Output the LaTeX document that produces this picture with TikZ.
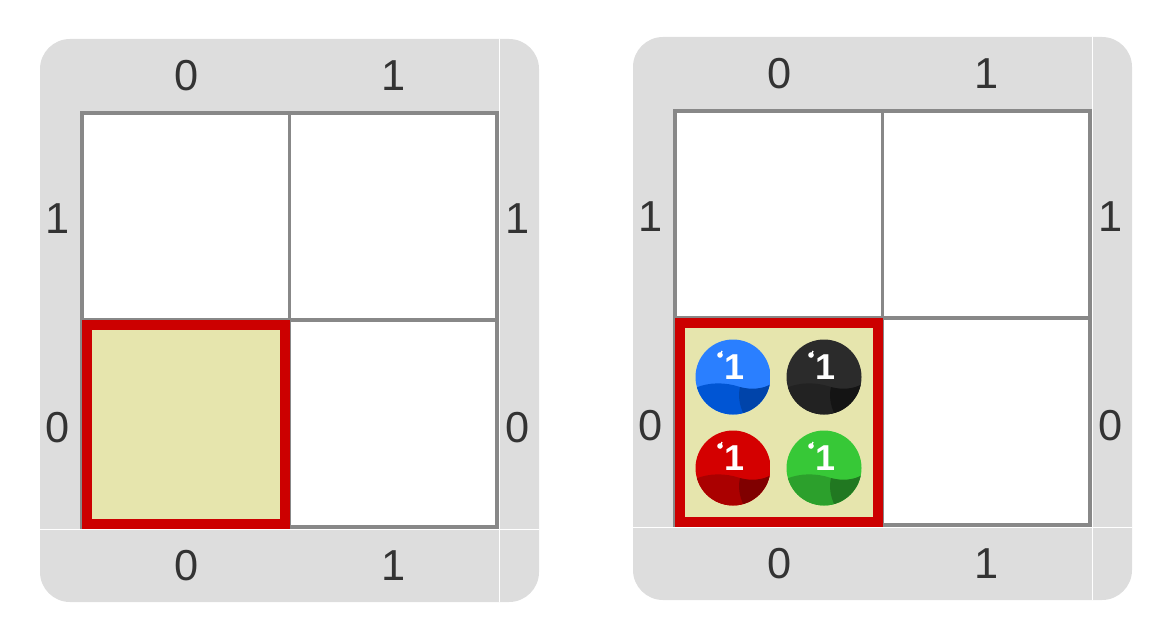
\documentclass[tikz,border=0pt]{standalone}
\usepackage{fontspec}
\setmainfont{Liberation Sans}
\definecolor{panel}{HTML}{DDDDDD}
\definecolor{gridline}{HTML}{888888}
\definecolor{cellfill}{HTML}{E6E5AD}
\definecolor{selred}{HTML}{CC0000}
\definecolor{txt}{HTML}{333333}

\begin{document}
\begin{tikzpicture}[x=0.75pt,y=-0.75pt,
  lbl/.style={font=\fontsize{32.5}{39}\selectfont,text=txt,inner sep=0pt},
  num/.style={font=\fontsize{27}{32}\selectfont\bfseries,text=white,inner sep=0pt}]
\useasboundingbox (0,0) rectangle (1162,635);
\foreach \p/\dx/\dy in {l/0/0,r/593/-2} {
\begin{scope}[shift={(\dx,\dy)}]
\fill[panel,rounded corners=22.5pt] (40,39) rectangle (539,602);
\draw[white,line width=0.75pt] (499.5,39)--(499.5,602) (40,529.5)--(539,529.5);
\fill[white] (82,113) rectangle (497,527);
\fill[cellfill] (82,320) rectangle (289.5,527);
\draw[gridline,line width=2.4pt] (82,113) rectangle (497,527) (289.5,113)--(289.5,527) (82,320)--(497,320);
\draw[selred,line width=7.5pt] (87,325) rectangle (285,524);
\foreach \i/\x in {0/187,1/394} {
\node[lbl] (t\p\i) at (\x,75.5) {\i};
\node[lbl] (b\p\i) at (\x,566) {\i};}
\foreach \i/\y in {1/218.5,0/428} {
\node[lbl] (w\p\i) at (58,\y) {\i};
\node[lbl] (e\p\i) at (518,\y) {\i};}
\end{scope}}
% marbles in the selected cell
\foreach \n/\x/\y/\ca/\cb/\cc in {blue/733/377/2A7FFF/0055D4/0044AA,black/824/377/2B2B2B/222222/141414,
  red/733/468/D40000/AA0000/800000,green/824/468/37C837/2CA02C/217821} {
\definecolor{ca}{HTML}{\ca}\definecolor{cb}{HTML}{\cb}\definecolor{cc}{HTML}{\cc}
\begin{scope}[shift={(\x,\y)}]
\begin{scope}
\clip (0,0) circle[radius=37.5];
\fill[ca] (-38,-38) rectangle (38,38);
\fill[cb] (-38,11) .. controls (-24,5) and (-8,5) .. (7,10) -- (11,38) -- (-38,38) -- cycle;
\fill[cc] (7,10) .. controls (18,13) and (30,12) .. (38,7) -- (38,38) -- (11,38) .. controls (6,28) and (5,18) .. (7,10);
\end{scope}
\node[num] (n\n) at (1,-10) {1};
\fill[white] (-13,-22) circle[radius=2.8];
\draw[white,line width=1pt] (-13,-22)--(-11,-26);
\end{scope}}
\end{tikzpicture}
\end{document}
